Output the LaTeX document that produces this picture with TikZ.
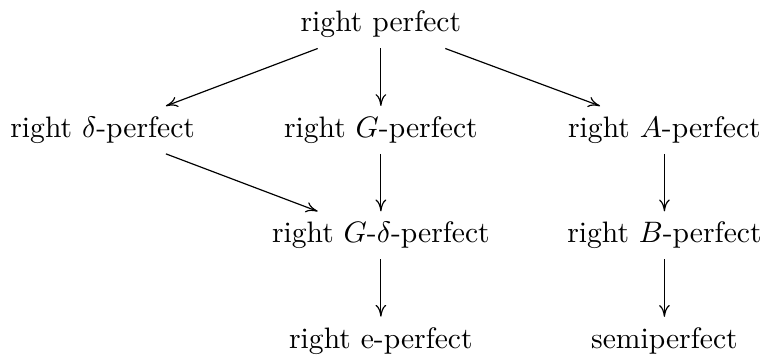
\documentclass[tikz,border=0pt]{standalone}
\usepackage{amsmath,amssymb}
\usepackage{tikz}
\usetikzlibrary{arrows.meta,positioning}

\begin{document}
\begin{tikzpicture}[
  cls/.style={align=center},
  arr/.style={-{To[length=4pt,width=3.6pt]}, line width=0.4pt},
  node distance=35.6pt and 94pt, on grid
]
\useasboundingbox (-128.7pt,8.3pt) rectangle (128.1pt,-112pt);

\node[cls] (perf) at (0,0) {right perfect};
\node[cls, below=of perf] (gperf) {right $G$-perfect};
\node[cls, left=of gperf] (dperf) {right $\delta$-perfect};
\node[cls, right=95.8pt of gperf] (aperf) {right $A$-perfect};
\node[cls, below=of gperf] (gdperf) {right $G$-$\delta$-perfect};
\node[cls, below=of aperf] (bperf) {right $B$-perfect};
\node[cls, below=of gdperf] (eperf) {right e-perfect};
\node[cls, below=of bperf] (semi) {semiperfect};

\draw[arr] (perf) -- (dperf);
\draw[arr] (perf) -- (gperf);
\draw[arr] (perf) -- (aperf);
\draw[arr] (dperf) -- (gdperf);
\draw[arr] (gperf) -- (gdperf);
\draw[arr] (aperf) -- (bperf);
\draw[arr] (gdperf) -- (eperf);
\draw[arr] (bperf) -- (semi);

\end{tikzpicture}
\end{document}
